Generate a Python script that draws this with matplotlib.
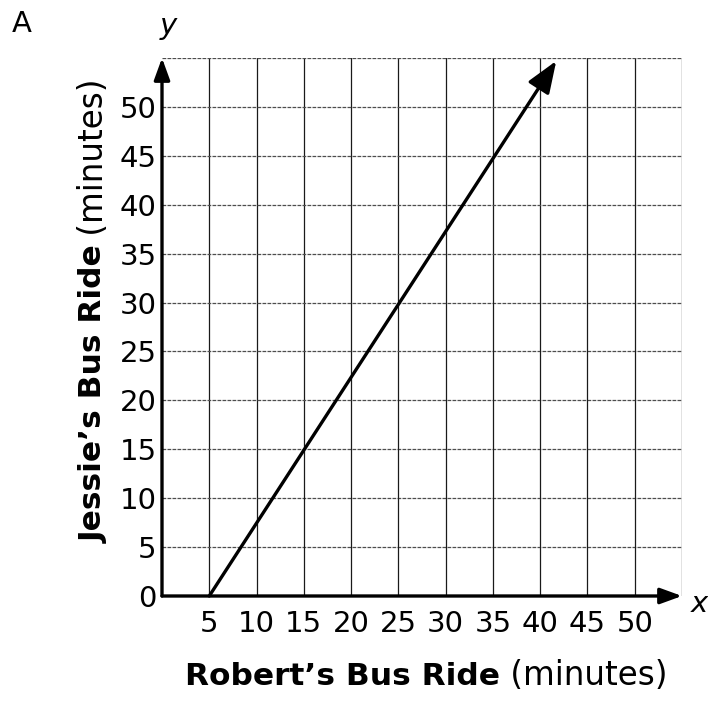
import matplotlib
matplotlib.use('Agg')
import numpy as np
from matplotlib import pyplot as plt

# values
x_ticks = [5, 10, 15, 20, 25, 30, 35, 40, 45, 50]
y_ticks = [0, 5, 10, 15, 20, 25, 30, 35, 40, 45, 50]
grid_vals = [5, 10, 15, 20, 25, 30, 35, 40, 45, 50, 55]
axis_max = 55

# the graphed line: starts at (5, 0), arrow runs off near the top
line_x = [5, 41.7]
line_y = [0, 54.7]

x_label_bold = 'Robert\u2019s Bus Ride'
y_label_bold = 'Jessie\u2019s Bus Ride'
label_unit = ' (minutes)'

plt.rcParams['font.family'] = ['DejaVu Sans']

fig = plt.figure(figsize=(7.08, 7.06), dpi=100)
ax = fig.add_axes([162/708, 1-596/706, (682-162)/708, (596-58)/706])
ax.set_xlim(0, axis_max)
ax.set_ylim(0, axis_max)

# grid (the last line is the top/right border)
for v in grid_vals:
    ax.axvline(v, color='0.1', lw=0.9, zorder=1)
    ax.axhline(v, color='0.3', lw=0.9, ls=(0, (3, 1)), zorder=1)

for s in ax.spines.values():
    s.set_visible(False)

# axes with arrow heads
axis_arrow = dict(arrowstyle='-|>,head_length=1.1,head_width=0.4', lw=2.4,
                  color='black', mutation_scale=12, shrinkA=0, shrinkB=0)
ax.annotate('', xy=(axis_max, 0), xytext=(0, 0), arrowprops=axis_arrow,
            annotation_clip=False, zorder=3)
ax.annotate('', xy=(0, axis_max), xytext=(0, 0), arrowprops=axis_arrow,
            annotation_clip=False, zorder=3)

# the line
line_arrow = dict(arrowstyle='-|>,head_length=1.3,head_width=0.5', lw=2.4,
                  color='black', mutation_scale=15, shrinkA=0, shrinkB=0)
ax.annotate('', xy=(line_x[1], line_y[1]), xytext=(line_x[0], line_y[0]),
            arrowprops=line_arrow, zorder=4)

ax.set_xticks(x_ticks)
ax.set_yticks(y_ticks)
ax.tick_params(axis='both', length=0, labelsize=21)
ax.tick_params(axis='x', pad=10)
ax.tick_params(axis='y', pad=4)

# axis labels: bold part + normal part
fig.text(500/708, 1-685/706, x_label_bold, fontsize=22.5, weight='bold',
         ha='right', va='baseline')
fig.text(500/708, 1-685/706, label_unit, fontsize=23.5,
         ha='left', va='baseline')
fig.text(103/708, 0.652, y_label_bold, fontsize=22.5, weight='bold',
         rotation=90, rotation_mode='anchor', ha='right', va='baseline')
fig.text(103/708, 0.652, label_unit, fontsize=23.5,
         rotation=90, rotation_mode='anchor', ha='left', va='baseline')

fig.text(168/708, 1-26/706, 'y', fontsize=21, style='italic',
         ha='center', va='center')
fig.text(699/708, 1-604/706, 'x', fontsize=21, style='italic',
         ha='center', va='center')
fig.text(12/708, 1-32/706, 'A', fontsize=21, ha='left', va='baseline')

fig.savefig('out.png', dpi=100)
